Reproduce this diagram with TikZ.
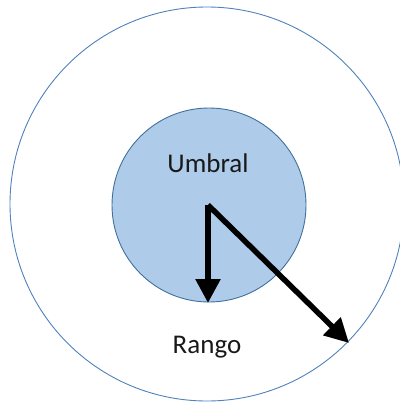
\documentclass[tikz,border=0pt]{standalone}
\usepackage{fontspec}
\setmainfont{Carlito}
\usetikzlibrary{arrows.meta}
\definecolor{ringblue}{RGB}{79,129,189}
\definecolor{fillblue}{RGB}{174,203,233}
\definecolor{edgeblue}{RGB}{65,113,156}
\tikzset{
  ring/.style={circle, draw=ringblue, line width=0.9pt, inner sep=0pt},
  core/.style={circle, draw=edgeblue, fill=fillblue, line width=0.9pt, inner sep=0pt},
  label/.style={font=\fontsize{27}{30}\selectfont, text=black!90, inner sep=0pt},
  thickarrow/.style={line width=5.5pt, -{Triangle[length=24pt,width=24pt]}, black}
}
\begin{document}
\begin{tikzpicture}[x=1pt,y=-1pt]
\useasboundingbox (0,0) rectangle (399,404);
\node[ring, minimum size=394pt] (outer) at (207,204) {};
\node[core, minimum size=194pt] (inner) at (209,205) {};
\node[label] (umbral) at (208,163) {Umbral};
\node[label] (rango) at (207,347) {Rango};
\coordinate (start) at (208,205);
\coordinate (downtip) at (208,303);
\coordinate (diagtip) at (349,343);
\draw[thickarrow] (start) -- (downtip);
\draw[thickarrow] (start) -- (diagtip);
\end{tikzpicture}
\end{document}
